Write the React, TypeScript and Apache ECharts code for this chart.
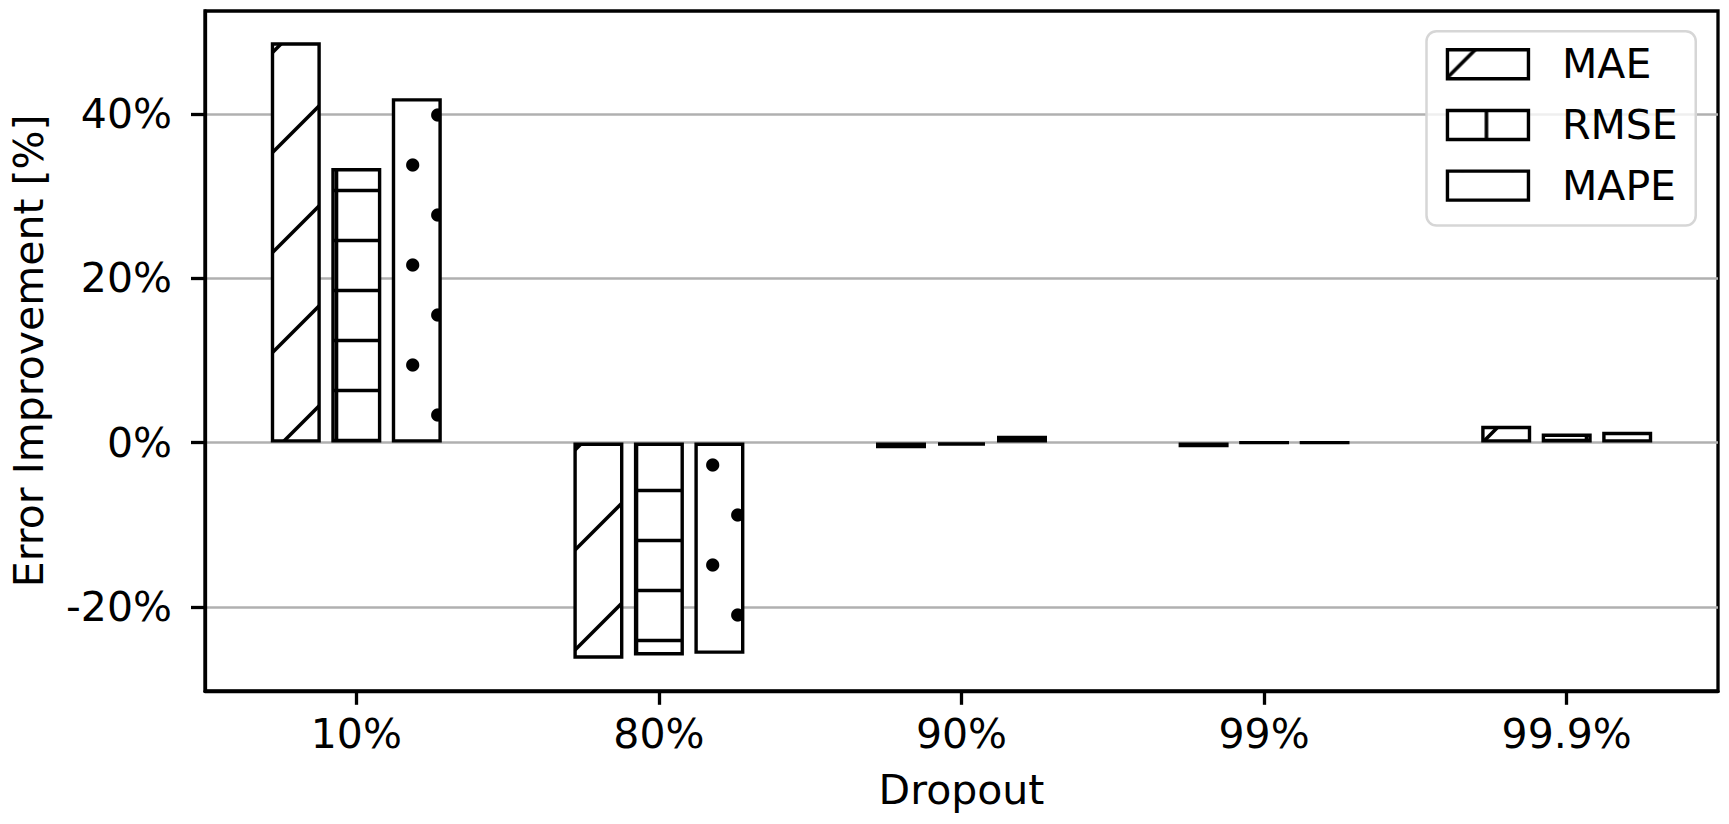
import React, { useEffect, useRef } from 'react';
import * as echarts from 'echarts';

const categories = ['10%', '80%', '90%', '99%', '99.9%'];
const maeValues = [48.7, -26.3, -0.68, -0.56, 2.03];
const rmseValues = [33.4, -25.9, -0.37, -0.02, 1.1];
const mapeValues = [41.9, -25.7, 0.82, -0.02, 1.3];
const seriesNames = ['MAE', 'RMSE', 'MAPE'];
const yTickValues = [-20, 0, 20, 40];

const FONT = 'DejaVu Sans';

function mod(a: number, n: number) {
  return ((a % n) + n) % n;
}

// Hatch patterns are anchored to absolute page coordinates (like matplotlib);
// ox/oy shift the phase for elements whose local origin is not the page origin.
function makePattern(kind: 'diag' | 'grid' | 'dots', ox: number, oy: number) {
  const S = 2;
  let w = 100;
  let h = 100;
  if (kind === 'grid') {
    w = 50;
    h = 50;
  } else if (kind === 'dots') {
    w = 50;
    h = 100;
  }
  const c = document.createElement('canvas');
  c.width = w * S;
  c.height = h * S;
  const ctx = c.getContext('2d')!;
  ctx.scale(S, S);
  ctx.fillStyle = '#ffffff';
  ctx.fillRect(0, 0, w, h);
  ctx.strokeStyle = '#000000';
  ctx.fillStyle = '#000000';
  ctx.lineWidth = 3.6;
  if (kind === 'diag') {
    const base = mod(25 - ox - oy, 100);
    for (let k = -1; k <= 2; k++) {
      const d = base + 100 * k;
      ctx.beginPath();
      ctx.moveTo(d + 20, -20);
      ctx.lineTo(-20, d + 20);
      ctx.stroke();
    }
  } else if (kind === 'grid') {
    const hy = mod(40.5 - oy, 50);
    const vx = mod(36.5 - ox, 50);
    for (let k = -1; k <= 1; k++) {
      ctx.beginPath();
      ctx.moveTo(-5, hy + 50 * k);
      ctx.lineTo(w + 5, hy + 50 * k);
      ctx.stroke();
      ctx.beginPath();
      ctx.moveTo(vx + 50 * k, -5);
      ctx.lineTo(vx + 50 * k, h + 5);
      ctx.stroke();
    }
  } else {
    const pts = [
      [12.7, 65],
      [37.7, 15],
    ];
    for (const [px, py] of pts) {
      const lx = mod(px - ox, 50);
      const ly = mod(py - oy, 100);
      for (let i = -1; i <= 1; i++) {
        for (let j = -1; j <= 1; j++) {
          ctx.beginPath();
          ctx.arc(lx + 50 * i, ly + 100 * j, 6.6, 0, Math.PI * 2);
          ctx.fill();
        }
      }
    }
  }
  return {
    image: c.toDataURL(),
    imageWidth: w,
    imageHeight: h,
    repeat: 'repeat',
  };
}

export default function App() {
  const ref = useRef<HTMLDivElement>(null);

  useEffect(() => {
    document.body.style.margin = '0';
    if (!ref.current) return;
    const chart = echarts.init(ref.current, null, { renderer: 'svg' });

    const kinds: ('diag' | 'grid' | 'dots')[] = ['diag', 'grid', 'dots'];
    const barPatterns = kinds.map((k) => makePattern(k, 0, 0));
    const legendIconLeft = 1447.5;
    const legendIconTop = 49.75;
    const legendPitch = 60.7;
    const legendPatterns = kinds.map((k, i) =>
      makePattern(k, legendIconLeft, legendIconTop + i * legendPitch)
    );
    const valueSets = [maeValues, rmseValues, mapeValues];

    const axisLineStyle = { color: '#000', width: 3.3 };

    const option: any = {
      animation: false,
      textStyle: { fontFamily: FONT },
      grid: {
        left: 203.3,
        right: 11,
        top: 11,
        bottom: 133.2,
        show: true,
        borderColor: '#000',
        borderWidth: 3.3,
        backgroundColor: 'transparent',
      },
      legend: {
        right: 33.25,
        top: 31.25,
        orient: 'vertical',
        icon: 'rect',
        itemWidth: 81,
        itemHeight: 29,
        itemGap: 19.7,
        padding: [12.5, 18, 19.3, 19.25],
        backgroundColor: 'rgba(255,255,255,0.8)',
        borderColor: '#d6d6d6',
        borderWidth: 2.5,
        borderRadius: 10,
        selectedMode: false,
        textStyle: {
          fontSize: 41,
          color: '#000',
          fontFamily: FONT,
          lineHeight: 41,
          padding: [0, 0, 0, 28.5],
        },
        itemStyle: { borderColor: '#000', borderWidth: 3.4 },
        data: seriesNames.map((n, i) => ({
          name: n,
          itemStyle: { color: legendPatterns[i], borderColor: '#000', borderWidth: 3.4 },
        })),
      },
      xAxis: {
        type: 'category',
        data: categories,
        axisLine: { show: true, onZero: false, lineStyle: axisLineStyle },
        axisTick: { show: true, alignWithLabel: true, length: 14, lineStyle: axisLineStyle },
        axisLabel: { fontSize: 41, color: '#000', margin: 23, fontFamily: FONT },
        splitLine: { show: false },
        name: 'Dropout',
        nameLocation: 'middle',
        nameGap: 79,
        nameTextStyle: { fontSize: 41, color: '#000', fontFamily: FONT },
      },
      yAxis: {
        type: 'value',
        min: -30.2,
        max: 52.5,
        axisLine: { show: true, lineStyle: axisLineStyle },
        axisTick: { show: true, length: 14, customValues: yTickValues, lineStyle: axisLineStyle },
        axisLabel: {
          customValues: yTickValues,
          formatter: '{value}%',
          fontSize: 41,
          color: '#000',
          margin: 33,
          fontFamily: FONT,
        },
        splitLine: {
          show: true,
          lineStyle: { color: '#b0b0b0', width: 2.6 },
        },
        name: 'Error Improvement [%]',
        nameLocation: 'middle',
        nameGap: 156,
        nameTextStyle: { fontSize: 41, color: '#000', fontFamily: FONT },
      },
      series: seriesNames.map((n, i) => ({
        name: n,
        type: 'bar',
        data: valueSets[i],
        barWidth: 50,
        barGap: '21%',
        itemStyle: {
          color: barPatterns[i],
          borderColor: '#000',
          borderWidth: 3.4,
        },
        emphasis: { disabled: true },
      })),
    };

    chart.setOption(option);
    return () => {
      chart.dispose();
    };
  }, []);

  return <div ref={ref} style={{ width: 1729, height: 824 }} />;
}
